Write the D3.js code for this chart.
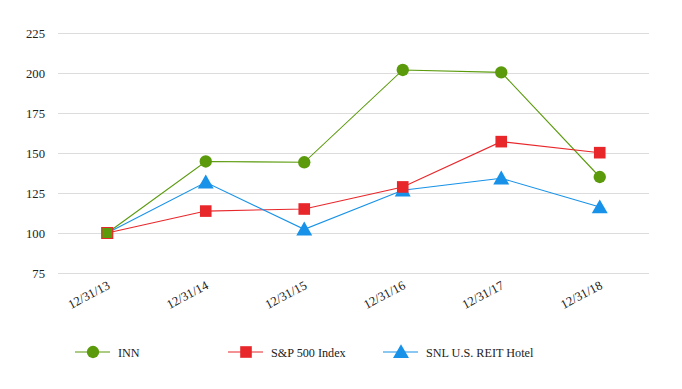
<!DOCTYPE html>
<html><head><meta charset="utf-8">
<script src="https://cdn.jsdelivr.net/npm/d3@7"></script>
<style>body{margin:0;background:#fff}svg{display:block}</style>
</head><body>
<svg id="c" width="682" height="389" style="font-family:'Liberation Serif','Times New Roman',serif"></svg>
<script>
const categories = ["12/31/13","12/31/14","12/31/15","12/31/16","12/31/17","12/31/18"];
const innValues = [100, 144.7, 144.2, 201.9, 200.4, 135.0];
const spValues = [100, 113.7, 115.0, 128.8, 157.1, 150.2];
const snlValues = [100, 131.7, 102.3, 126.7, 134.2, 116.2];
const yTicks = [75,100,125,150,175,200,225];
const seriesNames = ["INN","S&P 500 Index","SNL U.S. REIT Hotel"];

const FONT = "'Liberation Serif','Times New Roman',serif";
const FS = 12.2;
const colors = ["#5a9a0b","#e8272b","#1792e8"];
const shapes = [d3.symbolCircle, d3.symbolSquare, d3.symbolTriangle];
const sizes = [120, 135, 110];
const series = [innValues, spValues, snlValues];

const svg = d3.select("#c");
const x = d3.scalePoint().domain(categories).range([58,649]).padding(0.5);
const y = d3.scaleLinear().domain([75,225]).range([273,33]);

const yAxis = svg.append("g").attr("transform","translate(58,0)")
  .call(d3.axisLeft(y).tickValues(yTicks).tickSize(-591).tickPadding(13));
yAxis.attr("font-family",FONT);
yAxis.select(".domain").remove();
yAxis.selectAll("line").attr("stroke","#dcdcdc");
yAxis.selectAll("text").attr("font-size",FS+0.5).attr("fill","#222").style("font-family",FONT);

const xAxis = svg.append("g").attr("transform","translate(0,273)")
  .call(d3.axisBottom(x).tickSize(0).tickPadding(0));
xAxis.attr("font-family",FONT);
xAxis.select(".domain").remove();
xAxis.selectAll("text").attr("font-size",FS+0.5).attr("fill","#222").style("font-family",FONT)
  .attr("text-anchor","end").attr("dy",0)
  .attr("transform","translate(3,15) rotate(-28)");

const line = d3.line().x((d,i)=>x(categories[i])).y(d=>y(d));
series.forEach((vals,k)=>{
  svg.append("path").datum(vals).attr("d",line).attr("fill","none")
    .attr("stroke",colors[k]).attr("stroke-width",1.1);
});
[2,1,0].forEach(k=>{
  const vals = series[k];
  svg.selectAll(null).data(vals.map((v,i)=>({v,i})).filter(d=>d.i>0)).enter().append("path")
    .attr("d",d3.symbol().type(shapes[k]).size(sizes[k]))
    .attr("transform",d=>`translate(${x(categories[d.i])},${y(d.v) + (k===2?1.5:0)})`)
    .attr("fill",colors[k]);
});
// shared start point: green square with red border
svg.append("path").attr("d",d3.symbol().type(d3.symbolSquare).size(120))
  .attr("transform",`translate(${x(categories[0])},${y(innValues[0])})`)
  .attr("fill",colors[0]).attr("stroke",colors[1]).attr("stroke-width",1.2);

// legend
const legX = [75,228,383];
const lg = svg.append("g").attr("font-family",FONT);
seriesNames.forEach((n,k)=>{
  const g = lg.append("g").attr("transform",`translate(${legX[k]},352)`);
  g.append("line").attr("x1",0).attr("x2",35).attr("stroke",colors[k]).attr("stroke-width",1.2);
  g.append("path").attr("d",d3.symbol().type(shapes[k]).size(sizes[k])).attr("transform",`translate(18,${k===2?1.5:0})`).attr("fill",colors[k]);
  g.append("text").attr("x",43).attr("y",4.5).attr("font-size",FS).attr("fill","#222").style("font-family",FONT).text(n);
});
</script>
</body></html>
